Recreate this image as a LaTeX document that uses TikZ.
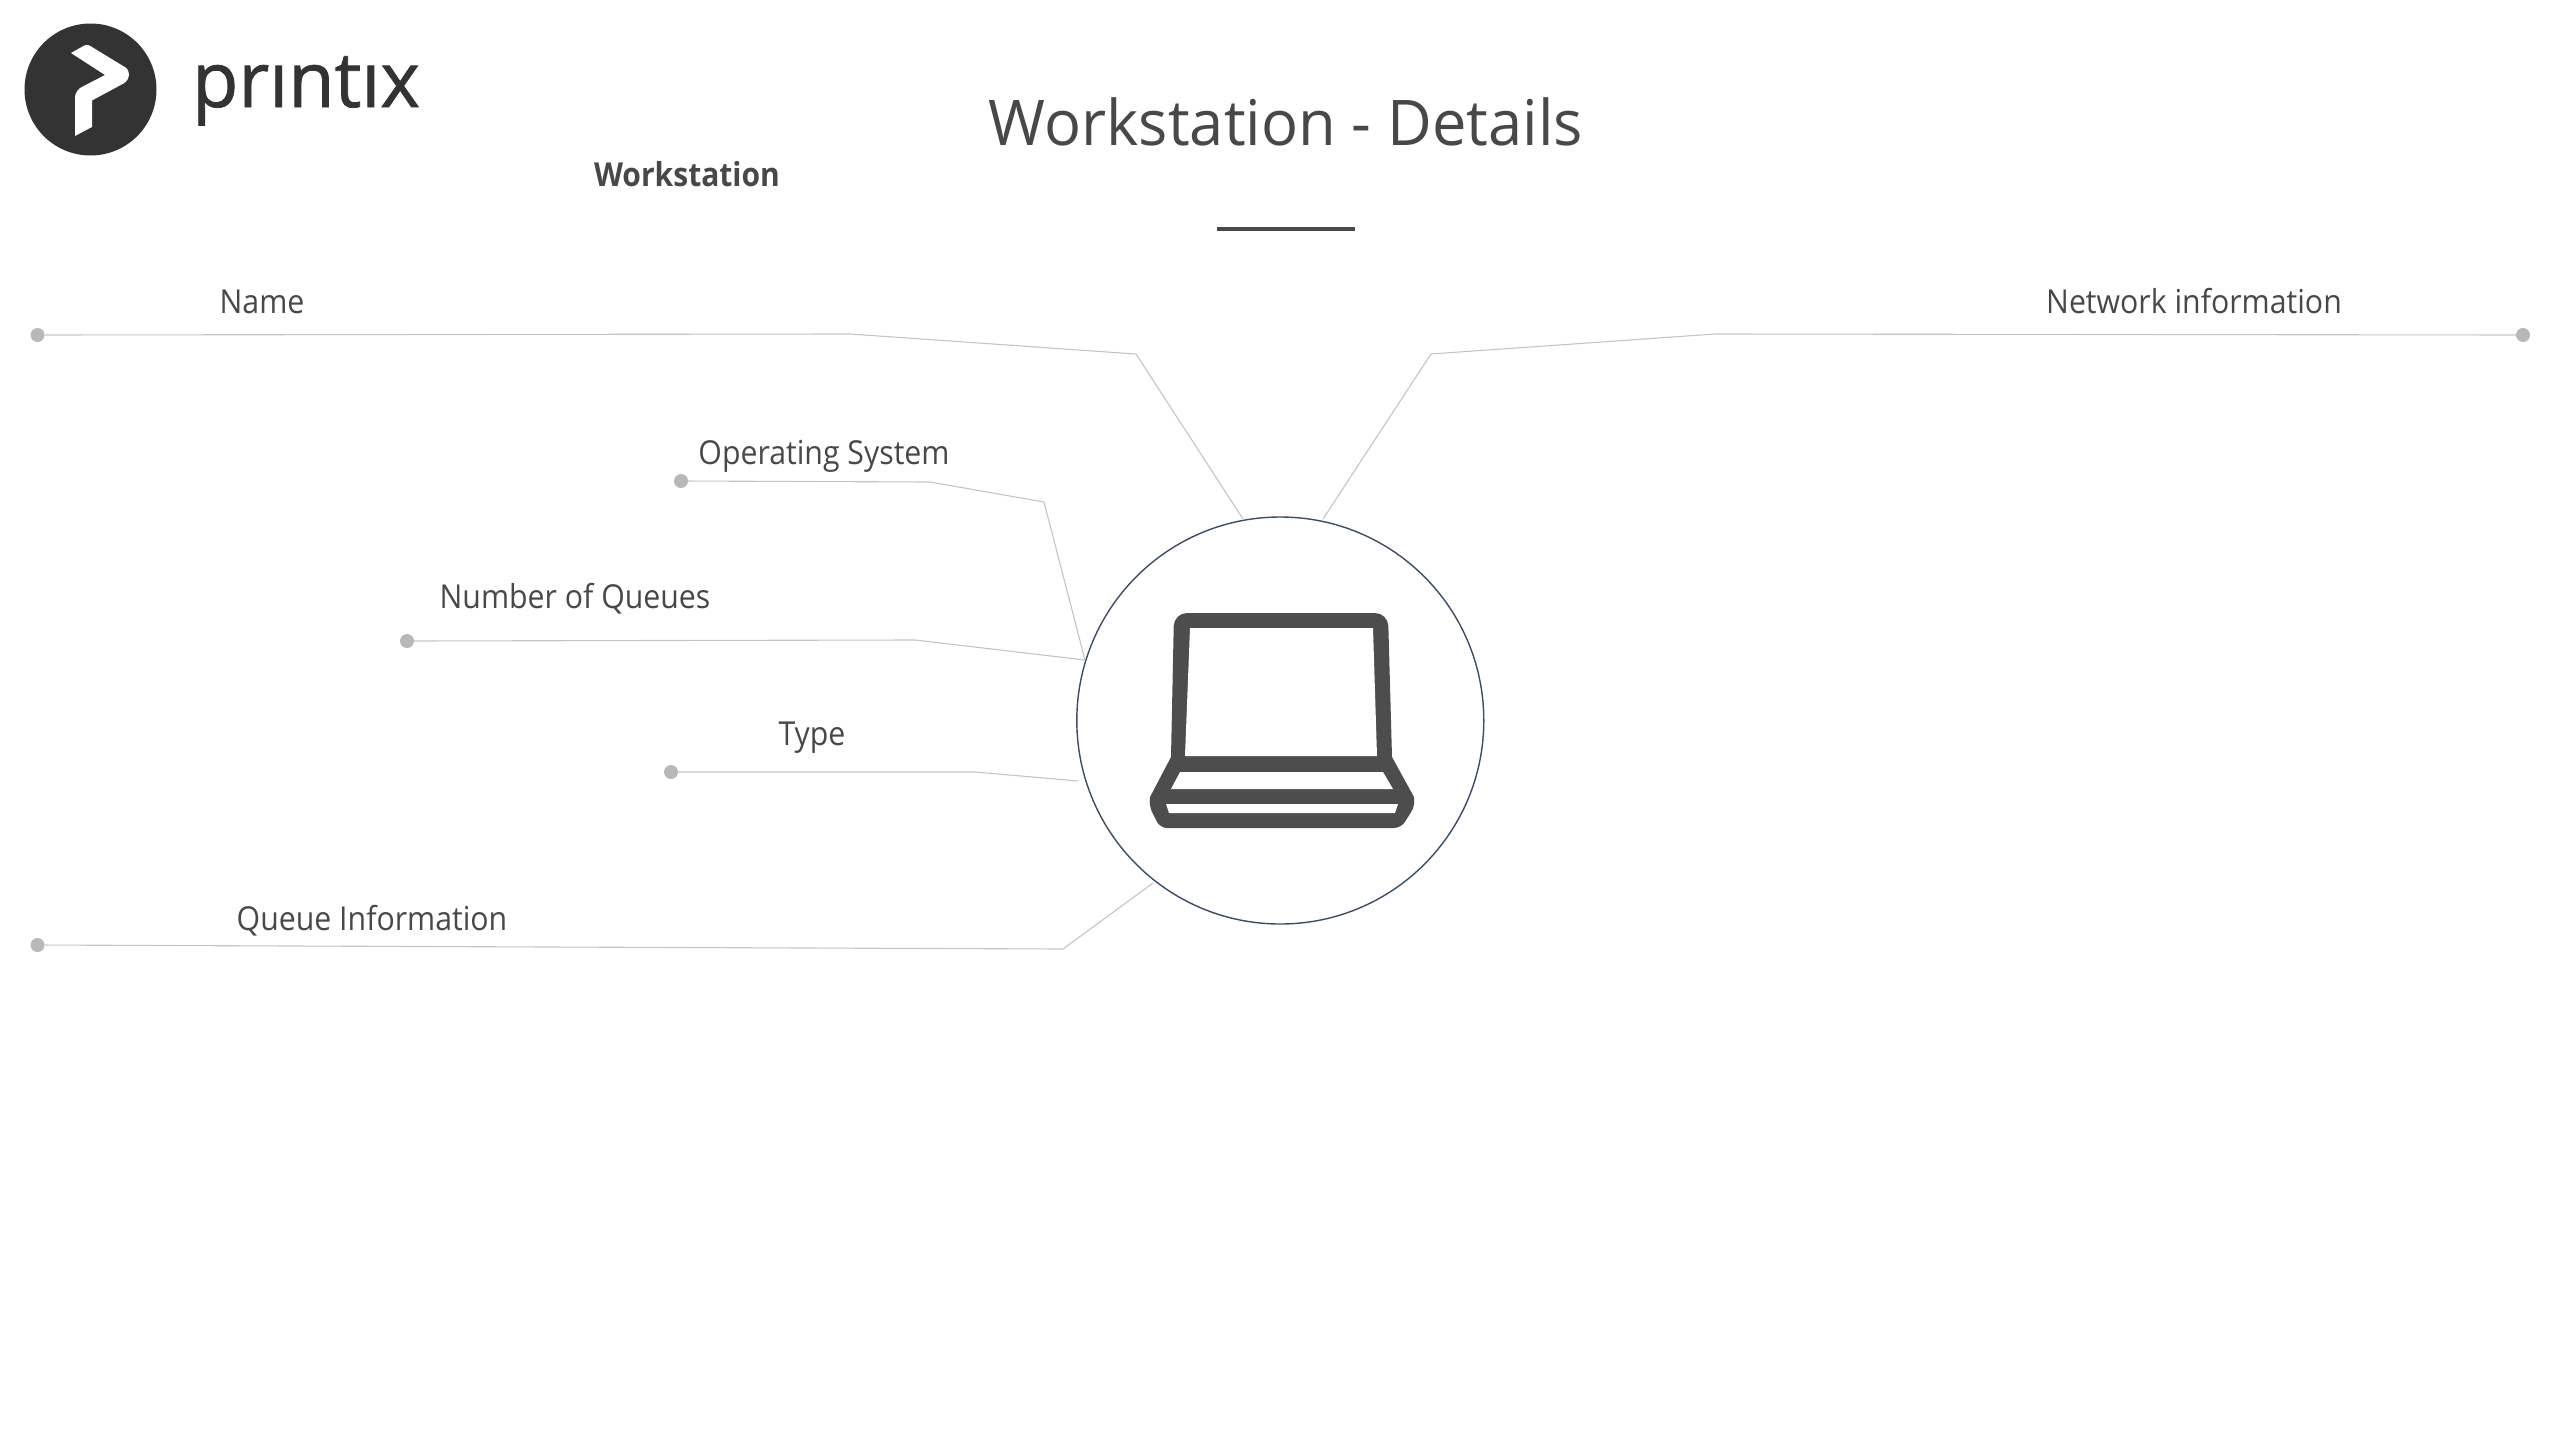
\documentclass[tikz,border=0pt]{standalone}
\usepackage{fontspec}
\setmainfont{Open Sans}
\newfontfamily\labelfont[FakeStretch=0.917]{Open Sans}
\newfontfamily\titlefont[FakeStretch=0.975]{Open Sans}
\newfontfamily\subfont[FakeStretch=0.91]{Open Sans}
\newfontfamily\brandfont[FakeStretch=0.98,FakeBold=1]{Open Sans}
\definecolor{txt}{HTML}{484848}
\definecolor{lnk}{HTML}{C4C4C4}
\definecolor{pinc}{HTML}{B8B8B8}
\definecolor{logo}{HTML}{333333}
\definecolor{icon}{HTML}{4D4D4D}
\definecolor{ring}{HTML}{3F4C60}
\tikzset{x=1pt,y=-1pt,
 lead/.style={draw=lnk,line width=1.1pt,line join=round},
 pin/.style={circle,fill=pinc,inner sep=0pt,minimum size=14pt},
 lab/.style={inner sep=0pt,text=txt,font=\labelfont\fontsize{33}{33}\selectfont,anchor=base},
}
\begin{document}
\begin{tikzpicture}
\useasboundingbox (0,0) rectangle (2559,1440);
% logo
\fill[logo] (90.5,89.5) circle (66);
\fill[white,rounded corners=3pt] (71,53) -- (87,44) -- (128,69) [rounded corners=7pt] -- (130,80) [rounded corners=0pt] -- (92,100.5) -- (92,127) -- (75,136) -- (75,97) [rounded corners=6pt] -- (76,90) [rounded corners=0pt]-- (105,75) -- cycle;
\node[inner sep=0pt,anchor=base west,text=logo,font=\brandfont\fontsize{77}{77}\selectfont] (brand) at (192,107) {prıntıx};
% title
\node[lab,font=\titlefont\fontsize{63}{63}\selectfont] (title) at (1286,145) {Workstation - Details};
\node[lab,font=\subfont\fontsize{33}{33}\selectfont\bfseries] (sub) at (687,186) {Workstation};
\draw[draw=txt,line width=4pt] (1217,229) -- (1355,229);
% hub
\node[circle,draw=ring,line width=1.4pt,minimum size=407pt,inner sep=0pt] (hub) at (1280.3,720.5) {};
% laptop
\fill[icon]
 (1171,757) [rounded corners=13pt] -- (1174,613) -- (1388,613) [rounded corners=0pt] -- (1392,757) -- (1414,797) [rounded corners=7pt] -- (1415,806) -- (1401,828) -- (1160,828) -- (1149,806) [rounded corners=0pt] -- (1150,797) -- cycle;
\fill[white,rounded corners=3pt] (1185,756) [rounded corners=0pt] -- (1190,628) -- (1373,628) -- (1377,756) -- cycle;
\fill[white] (1180,772) -- (1383,772) -- (1393,789) -- (1171,789) -- cycle;
\fill[white] (1166,804) -- (1398,804) -- (1395,813) -- (1169,813) -- cycle;
% pins
\node[pin] (p1) at (37.5,335) {};
\node[pin] (p2) at (681,481) {};
\node[pin] (p3) at (407,641) {};
\node[pin] (p4) at (671,772) {};
\node[pin] (p5) at (37.5,945) {};
\node[pin] (p6) at (2523,335) {};
% connectors
\draw[lead] (p1) -- (850,334) -- (1136,354) -- (1243,519);
\draw[lead] (p2) -- (930,482) -- (1044,502) -- (1085,660);
\draw[lead] (p3) -- (915,640) -- (1085,660);
\draw[lead] (p4) -- (975,772) -- (1078,781);
\draw[lead] (p5) -- (1063,949) -- (1153,883);
\draw[lead] (p6) -- (1715,334) -- (1431,354) -- (1323,519);
% labels
\node[lab] (l1) at (262,313) {Name};
\node[lab] (l2) at (824,464) {Operating System};
\node[lab] (l3) at (575,608) {Number of Queues};
\node[lab] (l4) at (812,745) {Type};
\node[lab] (l5) at (372,930) {Queue Information};
\node[lab] (l6) at (2194,313) {Network information};
\end{tikzpicture}
\end{document}
